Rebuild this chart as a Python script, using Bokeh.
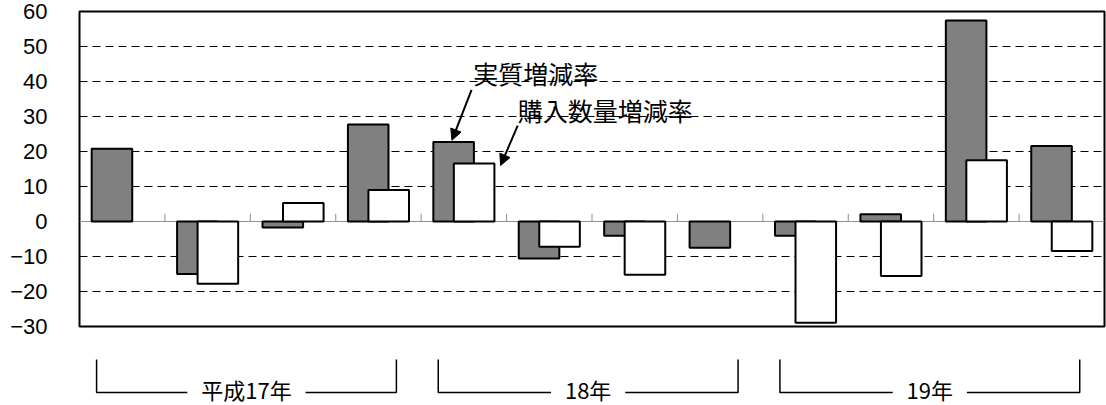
from bokeh.plotting import figure
from bokeh.models import Range1d, FixedTicker, Span, Arrow, NormalHead, Label
from bokeh.layouts import column
from bokeh.embed import file_html
from bokeh.resources import INLINE
from bokeh.core.properties import value

# Quarterly year-on-year change (%), 平成17年〜19年
quarters = list(range(1, 13))
real_change = [20.8, -15.0, -1.7, 27.7, 22.7, -10.6, -4.1, -7.5, -4.1, 2.1, 57.4, 21.6]
quantity_change = [None, -17.8, 5.3, 9.0, 16.6, -7.2, -15.2, None, -28.9, -15.6, 17.5, -8.4]
series_names = ["実質増減率", "購入数量増減率"]
years = ["平成17年", "18年", "19年"]
year_first_q = [1, 5, 9]
year_last_q = [4, 8, 12]
y_ticks = [-30, -20, -10, 0, 10, 20, 30, 40, 50, 60]
grid_ticks = [-20, -10, 10, 20, 30, 40, 50]

BAR_W = 0.475
OFFSET = 0.12
CJK = "Noto Sans CJK JP"

p = figure(width=1106, height=345,
           x_range=Range1d(0.5, 12.5), y_range=Range1d(-30, 60),
           x_axis_location=None,
           min_border_left=79, min_border_right=2,
           min_border_top=11, min_border_bottom=19,
           output_backend="svg", toolbar_location=None)
p.background_fill_color = "white"
p.border_fill_color = "white"
p.outline_line_color = "black"
p.outline_line_width = 2

p.xgrid.visible = False
p.ygrid.ticker = FixedTicker(ticks=grid_ticks)
p.ygrid.grid_line_color = "black"
p.ygrid.grid_line_width = 1
p.ygrid.grid_line_dash = "8 5"

ax = p.yaxis[0]
ax.ticker = FixedTicker(ticks=y_ticks)
ax.axis_line_color = None
ax.major_tick_line_color = None
ax.minor_tick_line_color = None
ax.major_tick_out = 0
ax.major_tick_in = 0
ax.major_label_standoff = 32
ax.major_label_text_font = "Liberation Sans"
ax.major_label_text_font_size = "22px"
ax.major_label_text_color = "black"

# zero line and quarter separators
p.add_layout(Span(location=0, dimension="width", line_color="#909090",
                  line_width=1, level="underlay"))
bounds = [q + 0.5 for q in quarters[:-1]]
p.segment(x0=bounds, y0=[0] * len(bounds), x1=bounds, y1=[2.2] * len(bounds),
          line_color="#909090", line_width=1)

# bars
p.vbar(x=[q - OFFSET for q in quarters], top=real_change, bottom=0, width=BAR_W,
       fill_color="#808080", line_color="black", line_width=2)
qx = [q + OFFSET for q, v in zip(quarters, quantity_change) if v is not None]
qv = [v for v in quantity_change if v is not None]
p.vbar(x=qx, top=qv, bottom=0, width=BAR_W,
       fill_color="white", line_color="black", line_width=2)

# series call-outs
p.add_layout(Label(x=5.11, y=42.3, text=series_names[0], text_font=CJK,
                   text_font_size="25px", text_baseline="middle", text_color="black"))
p.add_layout(Label(x=5.63, y=32.0, text=series_names[1], text_font=CJK,
                   text_font_size="25px", text_baseline="middle", text_color="black"))
p.add_layout(Arrow(end=NormalHead(size=11, fill_color="black", line_color="black"),
                   x_start=5.09, y_start=37.6, x_end=4.86, y_end=23.2,
                   line_color="black", line_width=2))
p.add_layout(Arrow(end=NormalHead(size=11, fill_color="black", line_color="black"),
                   x_start=5.63, y_start=27.4, x_end=5.43, y_end=16.0,
                   line_color="black", line_width=2))

# year brackets below the plot
b = figure(width=1106, height=60, x_range=p.x_range, y_range=Range1d(60, 0),
           x_axis_location=None, y_axis_location=None,
           min_border_left=79, min_border_right=2,
           min_border_top=0, min_border_bottom=0,
           output_backend="svg", toolbar_location=None)
b.outline_line_color = None
b.grid.visible = False
b.background_fill_color = "white"
b.border_fill_color = "white"

UNIT_PX = 1025 / 12.0
FONT_PX = 22
TOP_Y, BASE_Y, TEXT_Y = 14, 47, 43

xs, ys, centers = [], [], []
for label, q0, q1 in zip(years, year_first_q, year_last_q):
    left = q0 - 0.5 + 0.2
    right = q1 + 0.5 - 0.29
    mid = (left + right) / 2
    em = sum(1.0 if ord(c) > 255 else 0.55 for c in label)
    gap = (em * FONT_PX / 2 + 14) / UNIT_PX
    xs += [[left, left, mid - gap], [mid + gap, right, right]]
    ys += [[TOP_Y, BASE_Y, BASE_Y], [BASE_Y, BASE_Y, TOP_Y]]
    centers.append(mid)

b.multi_line(xs=xs, ys=ys, line_color="black", line_width=1.5)
b.text(x=centers, y=[TEXT_Y] * len(centers), text=years,
       text_font=value(CJK), text_font_size=value(f"{FONT_PX}px"),
       text_align="center", text_baseline="middle", text_color="black")

layout = column(p, b, spacing=0)
open("out.html", "w").write(file_html(layout, INLINE))
